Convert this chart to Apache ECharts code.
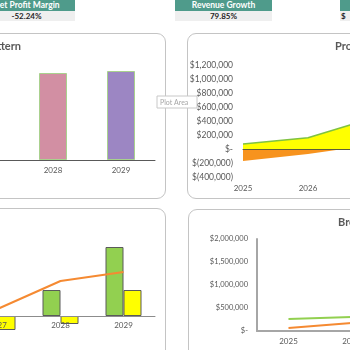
<!DOCTYPE html>
<html>
<head>
<meta charset="utf-8">
<script src="https://cdn.jsdelivr.net/npm/echarts@6/dist/echarts.min.js"></script>
<style>
  html, body { margin:0; padding:0; background:#fff; }
  #wrap { position:relative; width:350px; height:350px; overflow:hidden; font-family:Lato, "Open Sans", sans-serif; }
  .panel { position:absolute; box-sizing:border-box; border:1px solid #c4c4c4; border-radius:9px; background:#fff; }
  .kpi-h { position:absolute; height:11px; background:#4f9b8b; color:#fff; font-weight:bold; font-size:8.5px; line-height:11px; text-align:center; white-space:nowrap; }
  .kpi-v { position:absolute; height:10px; background:#efefef; color:#262626; font-weight:bold; font-size:8px; line-height:10px; text-align:center; white-space:nowrap; }
  /* canvas is wider than the window so the clipped charts keep their scale */
  #chart { position:absolute; left:-100px; top:0; width:550px; height:350px; }
</style>
</head>
<body>
<div id="wrap">
  <div class="panel" style="left:-20px;top:33px;width:186px;height:166px;"></div>
  <div class="panel" style="left:187px;top:33px;width:200px;height:166px;"></div>
  <div class="panel" style="left:-20px;top:208px;width:186px;height:200px;"></div>
  <div class="panel" style="left:188px;top:209px;width:200px;height:200px;"></div>
  <div id="kpis"></div>
  <div id="chart"></div>
</div>
<script>
// KPI strip
var kpiLabels = ['Net Profit Margin', 'Revenue Growth', 'Net Profit'];
var kpiValues = ['-52.24%', '79.85%', '$'];

// top-left: pattern bars
var patternYears = ['2027', '2028', '2029'];
var patternValues = [null, 870000, 890000];

// top-right: profit areas
var profitYears = ['2025', '2026', '2027'];
var grossProfit = [71000, 160000, 443000];
var netProfit = [-171000, -70000, 60000];
var profitTicks = [-400000, 1200000, 200000];

// bottom-left: bars + line
var cmpYears = ['2027', '2028', '2029'];
var cmpRevenue = [null, 260000, 690000];
var cmpProfit = [-140000, -80000, 260000];
var cmpTrend = [70000, 350000, 440000];

// bottom-right: break-even lines
var beYears = ['2025', '2026'];
var beRevenue = [261000, 304000];
var beCost = [65000, 174000];
var beTicks = [0, 2000000, 500000];

var kpiLeft = [-22, 175, 340];
var html = '';
for (var i = 0; i < kpiLabels.length; i++) {
  var last = i === kpiLabels.length - 1;
  html += '<div class="kpi-h" style="left:' + kpiLeft[i] + 'px;top:0;width:97px;">' + (last ? '' : kpiLabels[i]) + '</div>';
  html += '<div class="kpi-v" style="left:' + kpiLeft[i] + 'px;top:11px;width:97px;' + (last ? 'text-align:left;padding-left:1px;' : '') + '">' + kpiValues[i] + '</div>';
}
document.getElementById('kpis').innerHTML = html;

function acct(v) {
  if (v === 0) return '$-';
  var s = Math.abs(v).toLocaleString('en-US');
  return v < 0 ? '$(' + s + ')' : '$' + s;
}

var txt = '#595959';
var ox = 100; // canvas offset
var chart = echarts.init(document.getElementById('chart'));

var option = {
  backgroundColor: 'transparent',
  animation: false,
  textStyle: { fontFamily: 'Lato' },
  graphic: [
    { type: 'text', x: ox + 21, y: 41, style: { text: 'Sales Pattern', fill: txt, font: 'bold 11px Lato', textAlign: 'right' } },
    { type: 'text', x: ox + 335, y: 41, style: { text: 'Profitability', fill: txt, font: 'bold 11px Lato' } },
    { type: 'text', x: ox + 338, y: 217, style: { text: 'Break-even', fill: txt, font: 'bold 11px Lato' } },
    { type: 'rect', x: ox + 157, y: 96, z: 50, shape: { width: 40, height: 12 }, style: { fill: '#fff', stroke: '#c8c8c8', lineWidth: 1 } },
    { type: 'text', x: ox + 160, y: 99, z: 51, style: { text: 'Plot Area', fill: '#a6a6a6', font: '7px Lato' } }
  ],
  grid: [
    { left: ox - 49, top: 40, width: 204, height: 120 },
    { left: ox + 243, top: 65, width: 130, height: 112 },
    { left: ox - 34, top: 216, width: 189, height: 120 },
    { left: ox + 257, top: 239, width: 126, height: 92 }
  ],
  xAxis: [
    { gridIndex: 0, type: 'category', data: patternYears,
      axisLine: { lineStyle: { color: '#595959', width: 1 } }, axisTick: { show: false },
      axisLabel: { color: txt, fontSize: 8, margin: 6 } },
    { gridIndex: 1, type: 'category', data: profitYears, boundaryGap: false,
      axisLine: { onZero: true, lineStyle: { color: '#5c5c3a', width: 1 } }, axisTick: { show: false },
      axisLabel: { color: txt, fontSize: 8, margin: 7 }, z: 5 },
    // zero of this grid sits 20px above its bottom edge
    { gridIndex: 2, type: 'category', data: cmpYears, z: 5, offset: -20,
      axisLine: { onZero: false, lineStyle: { color: '#8c8c8c', width: 1 } }, axisTick: { show: false },
      axisLabel: { color: txt, fontSize: 8, margin: 5 } },
    { gridIndex: 3, type: 'category', data: beYears,
      axisLine: { lineStyle: { color: '#a6a6a6', width: 2 } }, axisTick: { show: false },
      axisLabel: { color: txt, fontSize: 8, margin: 6 } }
  ],
  yAxis: [
    { gridIndex: 0, type: 'value', min: 0, max: 1200000, show: false },
    { gridIndex: 1, type: 'value', min: profitTicks[0], max: profitTicks[1], interval: profitTicks[2],
      axisLine: { show: false }, axisTick: { show: false }, splitLine: { show: false },
      axisLabel: { color: txt, fontSize: 8.5, margin: 10, formatter: acct } },
    { gridIndex: 2, type: 'value', min: -200000, max: 1000000, show: false },
    { gridIndex: 3, type: 'value', min: beTicks[0], max: beTicks[1], interval: beTicks[2],
      axisLine: { show: true, lineStyle: { color: '#a6a6a6', width: 2 } }, axisTick: { show: false },
      splitLine: { show: false },
      axisLabel: { color: txt, fontSize: 7.5, margin: 9, formatter: acct } }
  ],
  series: [
    { type: 'bar', xAxisIndex: 0, yAxisIndex: 0, barWidth: 28,
      data: patternValues.map(function (v, i) {
        return { value: v, itemStyle: { color: ['#8064a2', '#d28fa3', '#9c86c3'][i] } };
      }),
      itemStyle: { borderColor: '#a9d18e', borderWidth: 1 } },

    { type: 'line', xAxisIndex: 1, yAxisIndex: 1, data: netProfit, symbol: 'none',
      lineStyle: { width: 0 }, areaStyle: { color: '#f7931e', opacity: 1 } },
    { type: 'line', xAxisIndex: 1, yAxisIndex: 1, data: grossProfit, symbol: 'none',
      lineStyle: { color: '#7fc241', width: 1.5 }, areaStyle: { color: '#ffff00', opacity: 1 } },

    { type: 'bar', xAxisIndex: 2, yAxisIndex: 2, data: cmpRevenue, barWidth: 18, barGap: '0%',
      itemStyle: { color: '#92d050', borderColor: '#5a5a5a', borderWidth: 1 } },
    { type: 'bar', xAxisIndex: 2, yAxisIndex: 2, data: cmpProfit, barWidth: 18, barGap: '0%',
      itemStyle: { color: '#ffff00', borderColor: '#5a5a5a', borderWidth: 1 } },
    { type: 'line', xAxisIndex: 2, yAxisIndex: 2, data: cmpTrend, symbol: 'none', z: 4,
      lineStyle: { color: '#f58a32', width: 2 } },

    { type: 'line', xAxisIndex: 3, yAxisIndex: 3, data: beRevenue, symbol: 'none',
      lineStyle: { color: '#92d050', width: 2 } },
    { type: 'line', xAxisIndex: 3, yAxisIndex: 3, data: beCost, symbol: 'none',
      lineStyle: { color: '#f58a32', width: 2 } }
  ]
};
chart.setOption(option);
</script>
</body>
</html>
